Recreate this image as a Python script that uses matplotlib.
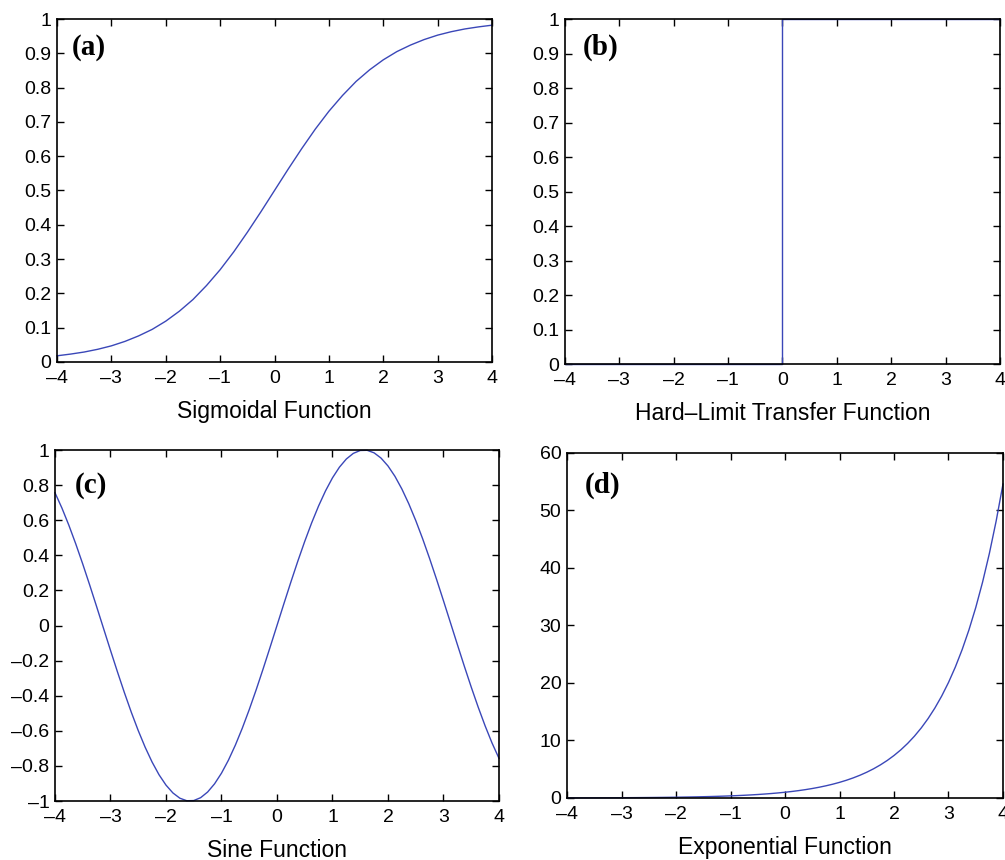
import matplotlib
matplotlib.use('Agg')
import matplotlib.pyplot as plt
from matplotlib.ticker import FuncFormatter

plt.rcParams['font.family'] = ['Liberation Sans', 'DejaVu Sans']

# sample positions (step 0.25)
x = [-4.0, -3.75, -3.5, -3.25, -3.0, -2.75, -2.5, -2.25, -2.0, -1.75, -1.5,
     -1.25, -1.0, -0.75, -0.5, -0.25, 0.0, 0.25, 0.5, 0.75, 1.0, 1.25, 1.5,
     1.75, 2.0, 2.25, 2.5, 2.75, 3.0, 3.25, 3.5, 3.75, 4.0]

sigmoid_y = [0.018, 0.023, 0.029, 0.037, 0.047, 0.060, 0.076, 0.095, 0.119,
             0.148, 0.182, 0.223, 0.269, 0.321, 0.378, 0.438, 0.500, 0.562,
             0.622, 0.679, 0.731, 0.777, 0.818, 0.852, 0.881, 0.905, 0.924,
             0.940, 0.953, 0.963, 0.971, 0.977, 0.982]

hardlim_x = [-4, 0, 0, 4]
hardlim_y = [0, 0, 1, 1]

# finer samples (step 0.125) for the sine and exponential curves
x_fine = [-4.0, -3.875, -3.75, -3.625, -3.5, -3.375, -3.25, -3.125, -3.0,
          -2.875, -2.75, -2.625, -2.5, -2.375, -2.25, -2.125, -2.0, -1.875,
          -1.75, -1.625, -1.5, -1.375, -1.25, -1.125, -1.0, -0.875, -0.75,
          -0.625, -0.5, -0.375, -0.25, -0.125, 0.0, 0.125, 0.25, 0.375, 0.5,
          0.625, 0.75, 0.875, 1.0, 1.125, 1.25, 1.375, 1.5, 1.625, 1.75,
          1.875, 2.0, 2.125, 2.25, 2.375, 2.5, 2.625, 2.75, 2.875, 3.0,
          3.125, 3.25, 3.375, 3.5, 3.625, 3.75, 3.875, 4.0]

sine_y = [0.7568, 0.6696, 0.5716, 0.4648, 0.3508, 0.2313, 0.1082, -0.0166,
          -0.1411, -0.2634, -0.3817, -0.4940, -0.5985, -0.6937, -0.7781,
          -0.8505, -0.9093, -0.9541, -0.9840, -0.9985, -0.9975, -0.9809,
          -0.9490, -0.9023, -0.8415, -0.7675, -0.6816, -0.5851, -0.4794,
          -0.3663, -0.2474, -0.1247, 0.0, 0.1247, 0.2474, 0.3663, 0.4794,
          0.5851, 0.6816, 0.7675, 0.8415, 0.9023, 0.9490, 0.9809, 0.9975,
          0.9985, 0.9840, 0.9541, 0.9093, 0.8505, 0.7781, 0.6937, 0.5985,
          0.4940, 0.3817, 0.2634, 0.1411, 0.0166, -0.1082, -0.2313, -0.3508,
          -0.4648, -0.5716, -0.6696, -0.7568]

exp_y = [0.0183, 0.0208, 0.0235, 0.0267, 0.0302, 0.0342, 0.0388, 0.0439,
         0.0498, 0.0564, 0.0639, 0.0724, 0.0821, 0.0930, 0.1054, 0.1194,
         0.1353, 0.1534, 0.1738, 0.1969, 0.2231, 0.2528, 0.2865, 0.3247,
         0.3679, 0.4169, 0.4724, 0.5353, 0.6065, 0.6873, 0.7788, 0.8825,
         1.0, 1.1331, 1.2840, 1.4550, 1.6487, 1.8682, 2.1170, 2.3989, 2.7183,
         3.0802, 3.4903, 3.9551, 4.4817, 5.0784, 5.7546, 6.5208, 7.3891,
         8.3729, 9.4877, 10.751, 12.182, 13.804, 15.643, 17.725, 20.086,
         22.760, 25.790, 29.224, 33.115, 37.524, 42.521, 48.183, 54.598]

xticks = [-4, -3, -2, -1, 0, 1, 2, 3, 4]
unit_ticks = [0, 0.1, 0.2, 0.3, 0.4, 0.5, 0.6, 0.7, 0.8, 0.9, 1]
sine_ticks = [-1, -0.8, -0.6, -0.4, -0.2, 0, 0.2, 0.4, 0.6, 0.8, 1]
exp_ticks = [0, 10, 20, 30, 40, 50, 60]

line_color = '#3a47b8'


def tick_fmt(v, pos):
    return ('%g' % v).replace('-', '\u2013')


fig = plt.figure(figsize=(10.05, 8.6), dpi=100)

# [left, bottom, width, height] in figure fraction
boxes = [
    [0.0567, 0.5791, 0.4329, 0.3988],
    [0.5622, 0.5767, 0.4328, 0.4012],
    [0.0547, 0.0686, 0.4418, 0.4081],
    [0.5642, 0.0721, 0.4338, 0.4012],
]

panels = [
    (x, sigmoid_y, 'Sigmoidal Function', '(a)', (0, 1), unit_ticks,
     (0.034, 0.918)),
    (hardlim_x, hardlim_y, 'Hard\u2013Limit Transfer Function', '(b)', (0, 1),
     unit_ticks, (0.041, 0.918)),
    (x_fine, sine_y, 'Sine Function', '(c)', (-1, 1), sine_ticks,
     (0.045, 0.900)),
    (x_fine, exp_y, 'Exponential Function', '(d)', (0, 60), exp_ticks,
     (0.041, 0.907)),
]

for box, (px, py, label, tag, ylim, yticks, tagpos) in zip(boxes, panels):
    ax = fig.add_axes(box)
    ax.plot(px, py, color=line_color, linewidth=1.0, clip_on=False)
    ax.set_xlim(-4, 4)
    ax.set_ylim(*ylim)
    ax.set_xticks(xticks)
    ax.set_yticks(yticks)
    ax.xaxis.set_major_formatter(FuncFormatter(tick_fmt))
    ax.yaxis.set_major_formatter(FuncFormatter(tick_fmt))
    ax.tick_params(direction='in', top=True, right=True, length=5,
                   width=1.0, labelsize=14)
    ax.tick_params(axis='x', pad=6)
    ax.tick_params(axis='y', pad=4)
    for s in ax.spines.values():
        s.set_linewidth(1.2)
    ax.set_xlabel(label, fontsize=16.5, labelpad=9)
    ax.text(tagpos[0], tagpos[1], tag, transform=ax.transAxes, ha='left',
            va='center', fontsize=21, fontweight='bold',
            family=['Liberation Serif', 'DejaVu Serif'])

plt.savefig('out.png', dpi=100)
plt.close()
